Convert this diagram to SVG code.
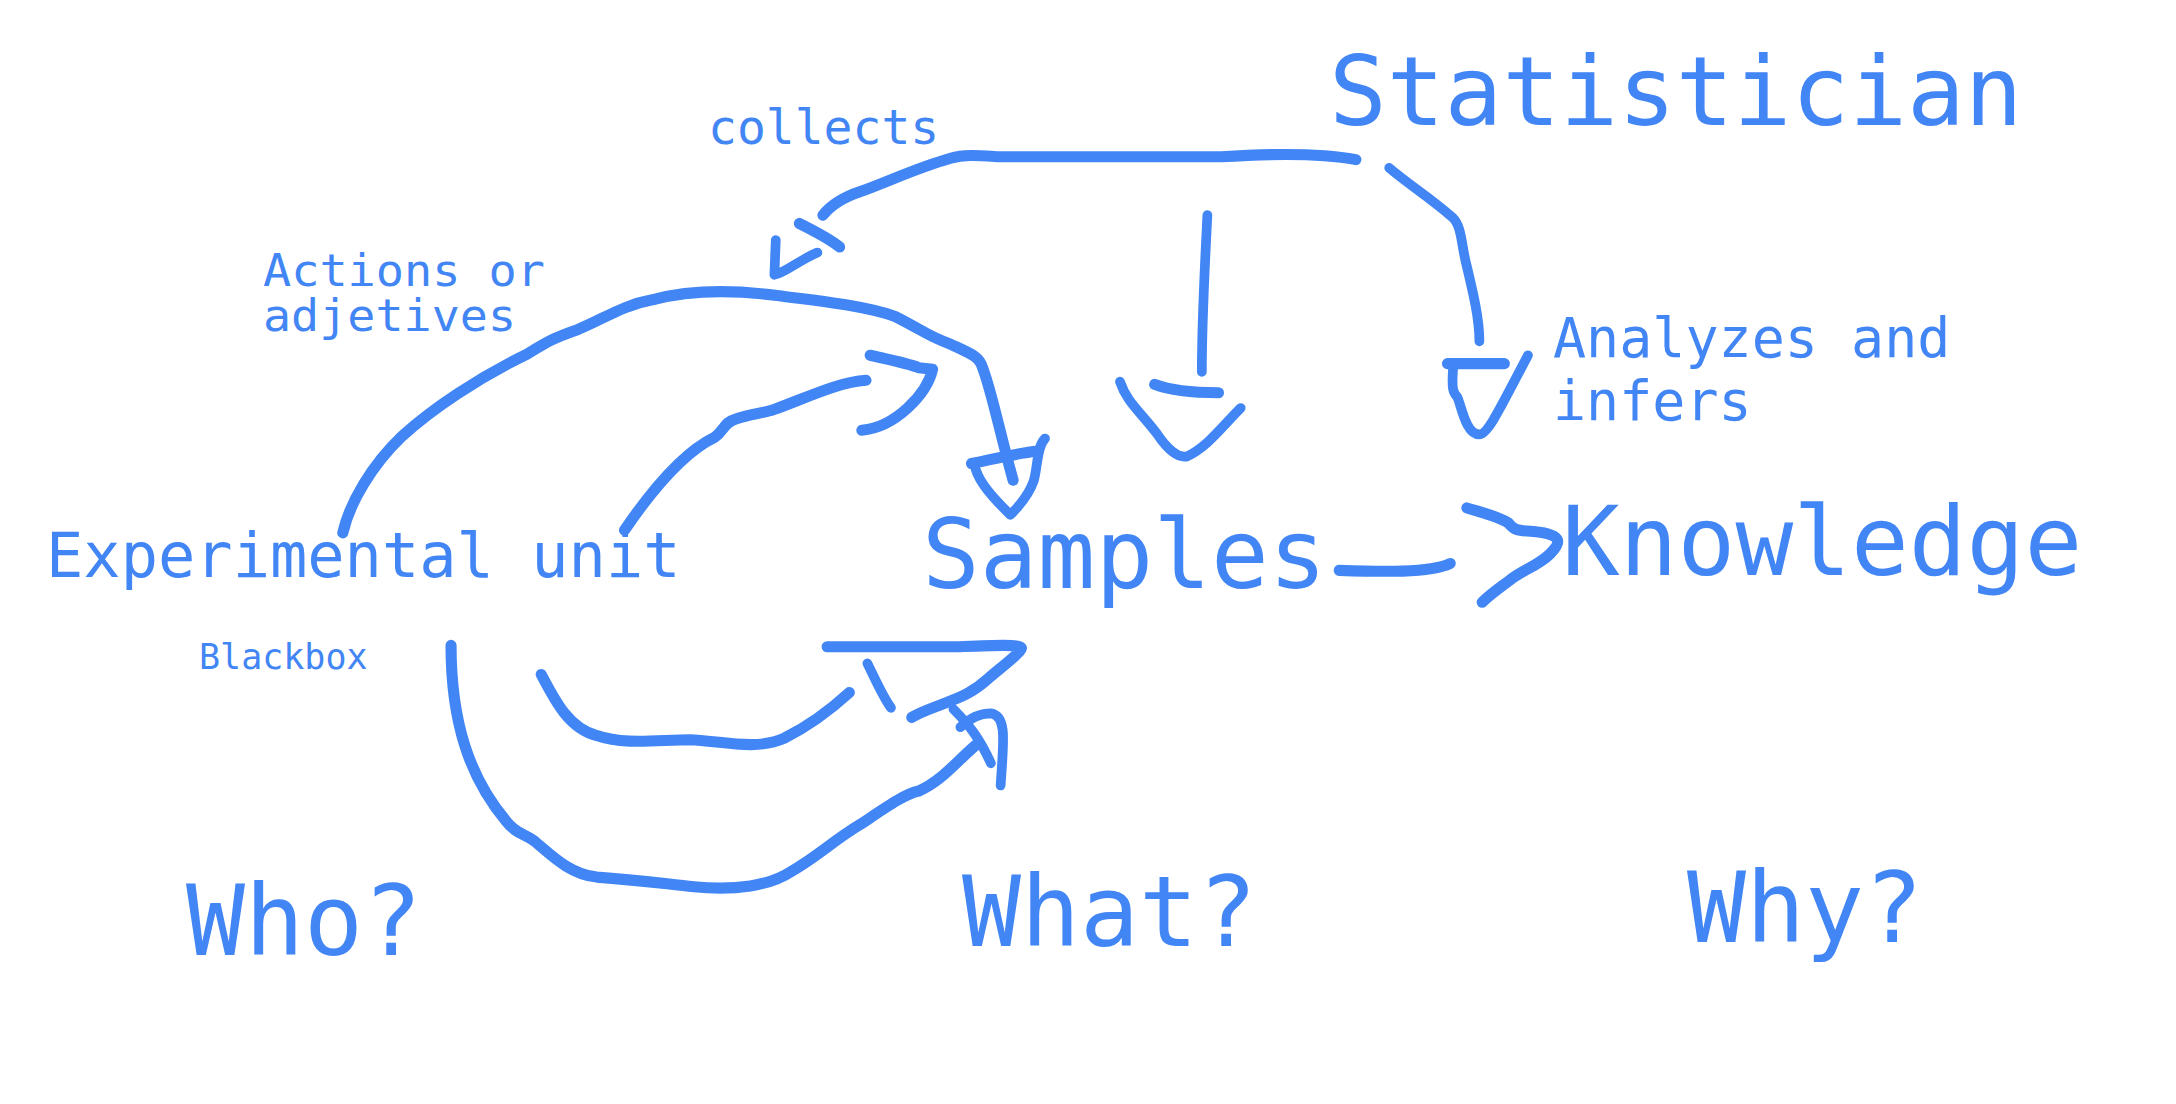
<svg xmlns="http://www.w3.org/2000/svg" width="2176" height="1104" viewBox="0 0 2176 1104">
<style>
.t{font-family:"DejaVu Sans Mono","Liberation Mono",monospace;fill:#4285F4}
.c path{fill:none;stroke:#4285F4;stroke-width:7;stroke-linecap:round;stroke-linejoin:round}
.c path.k{stroke-width:8}
</style>
<rect width="2176" height="1104" fill="#ffffff"/>
<g id="statistician"><text class="t" x="1329" y="125" font-size="96">Statistician</text></g>
<g id="collects"><text class="t" x="708" y="144" font-size="48">collects</text></g>
<g id="actions"><text class="t" x="263" y="286" font-size="45" textLength="282" lengthAdjust="spacingAndGlyphs">Actions or</text><text class="t" x="263" y="331" font-size="45" textLength="253" lengthAdjust="spacingAndGlyphs">adjetives</text></g>
<g id="experimental-unit"><text class="t" x="46" y="577" font-size="62">Experimental unit</text></g>
<g id="blackbox"><text class="t" x="199" y="669" font-size="35">Blackbox</text></g>
<g id="samples"><text class="t" x="922" y="588" font-size="96">Samples</text></g>
<g id="knowledge"><text class="t" x="1562" y="575" font-size="96">Knowledge</text></g>
<g id="analyzes"><text class="t" x="1553" y="357" font-size="55">Analyzes and</text><text class="t" x="1553" y="420" font-size="55">infers</text></g>
<g id="who"><text class="t" x="186" y="955" font-size="98">Who?</text></g>
<g id="what"><text class="t" x="962" y="946" font-size="98">What?</text></g>
<g id="why"><text class="t" x="1687" y="942" font-size="98">Why?</text></g>
<g id="connectors" class="c" transform="scale(1.3878)">
<path class="k" d="M977,115 C950,110 910,111 880,113 L720,113 C705,112 695,111 685,114 C660,121 640,131 620,138 C605,143 597,150 593,155"/>
<path class="k" d="M576,161 C588,167 598,172 605,178"/>
<path d="M559,173 L558,198 C565,197 575,188 589,182"/>
<path class="k" d="M247,384 C252,362 268,335 290,314 C312,294 345,272 380,255 C395,246 398,244 415,238 C435,230 448,220 470,216 C500,208 530,209 560,213 C590,217 622,220 645,228 C665,238 668,242 685,248 C700,255 706,257 708,265 C714,280 720,310 730,346"/>
<path class="k" d="M700,334 C715,331 730,327 748,325"/>
<path d="M703,338 C706,348 715,358 728,371 C735,364 742,355 745,346 C748,335 747,322 753,316"/>
<path class="k" d="M450,382 C465,360 490,327 515,315 C522,310 522,304 530,302 C540,298 550,298 558,295 C580,287 605,275 624,274"/>
<path class="k" d="M627,256 C640,259 655,262 662,265 L672,266 C668,284 645,308 621,310"/>
<path d="M870,155 C868,195 866,230 866,268"/>
<path d="M807,275 C812,290 822,297 834,313 C840,322 848,330 855,329 C870,322 880,308 894,294"/>
<path class="k" d="M832,277 C845,282 860,283 878,283"/>
<path d="M1001,121 C1015,133 1030,142 1047,157 C1053,163 1053,175 1056,188 C1062,213 1066,230 1066,246"/>
<path class="k" d="M1043,262 L1084,262"/>
<path d="M1047,266 C1046,280 1047,283 1050,286 C1053,292 1056,313 1066,313 C1072,313 1080,296 1101,256"/>
<path class="k" d="M965,411 C995,412 1030,413 1045,406"/>
<path class="k" d="M1057,366 C1070,370 1082,373 1087,377 C1092,383 1095,382 1105,383 C1128,385 1124,392 1117,399 C1108,408 1098,410 1088,418 C1080,424 1074,428 1068,434"/>
<path class="k" d="M325,465 C325,520 338,560 365,592 C372,601 377,600 385,606 C396,615 410,630 430,632 C460,634 480,637 500,639 C530,642 555,638 570,628 C588,618 600,606 620,594 C638,582 652,572 662,570 C678,563 688,550 703,537"/>
<path d="M687,511 C698,522 706,532 714,550"/>
<path d="M692,524 C698,518 705,514 714,514 C726,516 723,535 721,566"/>
<path class="k" d="M390,486 C400,505 410,525 430,530 C450,537 475,533 497,533 C520,534 545,541 565,532 C585,522 600,510 612,499"/>
<path class="k" d="M596,466 L690,466 C715,465 735,464 736,467 C737,469 720,482 712,489 C700,500 690,503 680,507 C670,511 663,513 657,517"/>
<path d="M625,478 C630,488 636,502 642,510"/>
</g>
</svg>
